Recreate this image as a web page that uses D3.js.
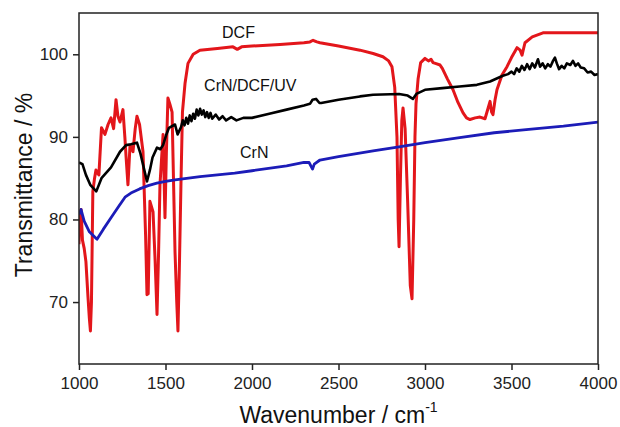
<!DOCTYPE html>
<html>
<head>
<meta charset="utf-8">
<script src="https://cdn.jsdelivr.net/npm/d3@7"></script>
<style>
  body { margin: 0; background: #fff; }
  svg { display: block; font-family: Arial, "Liberation Sans", sans-serif; }
</style>
</head>
<body>
<div id="chart"></div>
<script>
// FTIR spectra, [wavenumber, transmittance]
var dcf = [
  [1000, 77], [1005, 80.5], [1012, 81.2], [1020, 77.5], [1030, 76.5], [1040, 74.9],
  [1052, 70.6], [1060, 68], [1066, 66.5], [1072, 70], [1080, 83.4], [1090, 85],
  [1098, 86], [1115, 85.4], [1130, 91.1], [1150, 90.3], [1168, 91.5], [1185, 92.3],
  [1200, 91], [1214, 94.5], [1225, 92.5], [1237, 91.8], [1254, 93.3], [1265, 90],
  [1272, 87.6], [1283, 84.2], [1295, 89], [1312, 88.2], [1325, 91], [1335, 92.5],
  [1350, 91.5], [1370, 88.2], [1385, 78], [1393, 70.9], [1400, 71], [1410, 82.2],
  [1428, 80.9], [1440, 75], [1451, 68.5], [1460, 76], [1468, 84.2], [1486, 90.3],
  [1497, 80.2], [1505, 88], [1514, 94.7], [1525, 94], [1538, 93], [1555, 76.1],
  [1565, 70], [1572, 66.5], [1580, 74], [1590, 85], [1598, 93], [1613, 96.5],
  [1630, 98.9], [1660, 100], [1699, 100.5], [1800, 100.7], [1890, 100.9], [1915, 100.6],
  [1940, 100.9], [2000, 101], [2162, 101.2], [2300, 101.4], [2335, 101.5], [2353, 101.7],
  [2375, 101.5], [2393, 101.4], [2500, 101], [2624, 100.5], [2700, 100.1], [2757, 99.7],
  [2790, 99.2], [2809, 98.5], [2825, 96], [2838, 90], [2845, 80], [2850, 76.7],
  [2858, 85], [2866, 92], [2873, 93.5], [2885, 91], [2900, 82], [2915, 72],
  [2925, 70.4], [2935, 80], [2942, 90], [2948, 94], [2960, 97], [2975, 99],
  [3000, 99.5], [3020, 99.2], [3035, 99.4], [3046, 99], [3060, 98.9], [3087, 98.7],
  [3100, 98.3], [3130, 97], [3162, 95.7], [3190, 94.2], [3220, 92.9], [3240, 92.3],
  [3260, 92.1], [3290, 92.3], [3318, 92.4], [3347, 92.2], [3365, 93.5], [3376, 94.3],
  [3385, 93], [3393, 92.7], [3405, 94.5], [3416, 95.7], [3445, 97.5], [3474, 98.5],
  [3500, 99.6], [3532, 100.8], [3550, 100.5], [3561, 99.9], [3570, 100.7], [3578, 101.4],
  [3620, 102.1], [3682, 102.6], [3800, 102.6], [4000, 102.6]
];

var crnDcfUv = [
  [1000, 86.9], [1020, 86.7], [1040, 85.4], [1065, 84.2], [1100, 83.4], [1130, 85],
  [1185, 86.3], [1237, 88.2], [1272, 89], [1300, 89.1], [1335, 89.3], [1355, 88],
  [1393, 84.6], [1410, 86], [1425, 87.5], [1451, 88.7], [1470, 88.5], [1486, 89],
  [1505, 90.3], [1520, 91.1], [1555, 91.5], [1570, 90.3], [1590, 91.2], [1600, 92.0],
  [1610, 91.4], [1620, 92.3], [1630, 91.6], [1640, 92.6], [1650, 91.9], [1660, 92.8],
  [1670, 92.2], [1680, 93.3], [1690, 92.6], [1700, 93.4], [1710, 92.7], [1720, 93.2],
  [1730, 92.4], [1740, 93.0], [1750, 92.3], [1760, 92.9], [1770, 92.2], [1790, 92.7],
  [1810, 92.1], [1830, 92.5], [1850, 92.0], [1880, 92.4], [1910, 92.0], [1950, 92.3],
  [2000, 92.3], [2100, 92.8], [2200, 93.3], [2300, 93.8], [2335, 94.0], [2350, 94.5],
  [2370, 94.6], [2390, 94.1], [2400, 94.1], [2500, 94.5], [2624, 94.9], [2700, 95.1],
  [2850, 95.2], [2900, 95], [2930, 94.6], [2950, 95.2], [3000, 95.7], [3100, 95.9],
  [3200, 96.1], [3300, 96.3], [3376, 96.7], [3450, 97.4], [3480, 97.6], [3500, 97.9],
  [3515, 97.6], [3530, 98.3], [3545, 97.9], [3560, 98.6], [3575, 98.1], [3590, 98.8],
  [3605, 98.2], [3620, 98.9], [3635, 98.4], [3653, 99.4], [3665, 98.5], [3680, 98.9],
  [3695, 98.3], [3710, 98.8], [3725, 98.5], [3740, 99.2], [3751, 99.6], [3762, 98.9],
  [3775, 98.2], [3790, 98.6], [3805, 98.3], [3820, 98.9], [3840, 98.7], [3855, 99.2],
  [3870, 98.6], [3885, 98.9], [3900, 98.4], [3920, 98.3], [3940, 97.8], [3960, 97.9],
  [3980, 97.5], [4000, 97.6]
];

var crn = [
  [1000, 80.6], [1012, 81.2], [1030, 79.8], [1060, 78.5], [1104, 77.6], [1140, 78.8],
  [1185, 80.2], [1230, 81.6], [1266, 82.7], [1300, 83.2], [1350, 83.7], [1400, 84.1],
  [1450, 84.4], [1500, 84.6], [1555, 84.8], [1700, 85.2], [1900, 85.6],
  [2000, 85.9], [2200, 86.5], [2300, 86.9], [2330, 86.9], [2350, 86.1], [2360, 86.7],
  [2393, 87.2], [2500, 87.6], [2700, 88.3], [2850, 88.8], [3000, 89.3], [3200, 89.9],
  [3400, 90.5], [3600, 90.9], [3800, 91.3], [4000, 91.8]
];

var xTicks = [1000, 1500, 2000, 2500, 3000, 3500, 4000];
var yTicks = [70, 80, 90, 100];

var seriesNames = ["DCF", "CrN/DCF/UV", "CrN"];
var labelPos = [[1827, 102], [1723, 95.6], [1931, 87.5]];

var width = 620, height = 427;
var margin = { top: 13, right: 22, bottom: 63, left: 79 };
var w = width - margin.left - margin.right;
var h = height - margin.top - margin.bottom;

var xScale = d3.scaleLinear().domain([1000, 4000]).range([0, w]);
var yScale = d3.scaleLinear().domain([62.5, 105]).range([h, 0]);

var line = d3.line().x(function (d) {
  return xScale(d[0]);
}).y(function (d) {
  return yScale(d[1]);
});

var svg = d3.select("#chart").append("svg").attr("width", width).attr("height", height);
var g = svg.append("g").attr("transform", "translate(" + margin.left + "," + margin.top + ")");

g.append("defs").append("clipPath").attr("id", "clip")
  .append("rect").attr("width", w).attr("height", h);

var plot = g.append("g").attr("clip-path", "url(#clip)");

plot.append("path").attr("d", line(dcf)).attr("fill", "none")
  .attr("stroke", "#e3161b").attr("stroke-width", 3).attr("stroke-linejoin", "round");
plot.append("path").attr("d", line(crnDcfUv)).attr("fill", "none")
  .attr("stroke", "#000").attr("stroke-width", 2.6).attr("stroke-linejoin", "round");
plot.append("path").attr("d", line(crn)).attr("fill", "none")
  .attr("stroke", "#1c1cb8").attr("stroke-width", 2.8).attr("stroke-linejoin", "round");

// frame
g.append("rect").attr("width", w).attr("height", h)
  .attr("fill", "none").attr("stroke", "#222").attr("stroke-width", 1.5);

var xAxis = g.append("g").attr("transform", "translate(0," + h + ")")
  .call(d3.axisBottom(xScale).tickValues(xTicks).tickSize(6).tickPadding(7).tickFormat(d3.format("d")));
var yAxis = g.append("g")
  .call(d3.axisLeft(yScale).tickValues(yTicks).tickSize(6).tickPadding(5).tickFormat(d3.format("d")));

[xAxis, yAxis].forEach(function (ax) {
  ax.select(".domain").remove();
  ax.selectAll("line").attr("stroke", "#222").attr("stroke-width", 1.5);
  ax.selectAll("text").attr("font-family", "Arial, 'Liberation Sans', sans-serif")
    .attr("font-size", 17).attr("fill", "#222");
});

// series labels
g.selectAll(".seriesLabel").data(seriesNames).enter().append("text")
  .attr("class", "seriesLabel")
  .attr("x", function (d, i) { return xScale(labelPos[i][0]); })
  .attr("y", function (d, i) { return yScale(labelPos[i][1]); })
  .attr("font-size", 16).attr("fill", "#111")
  .text(function (d) { return d; });

// axis titles
var xTitle = svg.append("text")
  .attr("x", margin.left + w / 2).attr("y", 423)
  .attr("text-anchor", "middle").attr("font-size", 23).attr("fill", "#111");
xTitle.append("tspan").text("Wavenumber / cm");
xTitle.append("tspan").attr("font-size", 14).attr("dy", -11).text("-1");

svg.append("text")
  .attr("transform", "translate(32," + (margin.top + 172) + ") rotate(-90)")
  .attr("text-anchor", "middle").attr("font-size", 23).attr("fill", "#111")
  .text("Transmittance / %");
</script>
</body>
</html>
